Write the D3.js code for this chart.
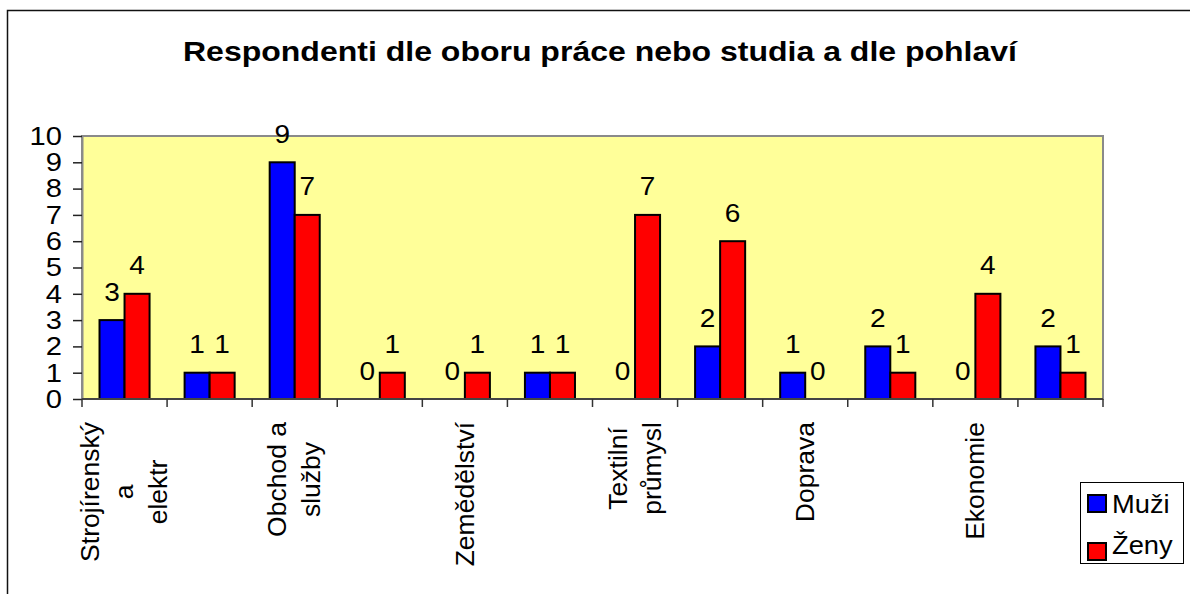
<!DOCTYPE html>
<html>
<head>
<meta charset="utf-8">
<script src="https://cdn.jsdelivr.net/npm/d3@7"></script>
<style>
  body { margin: 0; background: #fff; }
  text { font-family: "Liberation Sans", Arial, sans-serif; fill: #000; }
</style>
</head>
<body>
<script>
// data
const title = 'Respondenti dle oboru práce nebo studia a dle pohlaví'
const categories = ['Strojírenský\na\nelektr', '', 'Obchod a\nslužby', '', 'Zemědělství', '',
  'Textilní\nprůmysl', '', 'Doprava', '', 'Ekonomie', '']
const series = ['Muži', 'Ženy']
const muzi = [3, 1, 9, 0, 0, 1, 0, 2, 1, 2, 0, 2]
const zeny = [4, 1, 7, 1, 1, 1, 7, 6, 0, 1, 4, 1]
const yTicks = [0, 1, 2, 3, 4, 5, 6, 7, 8, 9, 10]

;(function () {
  const W = 1190
  const H = 594
  const plot = { left: 82, right: 1103, top: 136, bottom: 399 }
  const sx = 1.12 // the source picture is a bit wider than tall

  const svg = d3.select('body').append('svg')
    .attr('width', W)
    .attr('height', H)

  // stretch horizontal text a little, like the original
  function stretch (sel, k) {
    sel.each(function () {
      const w = this.getComputedTextLength()
      d3.select(this)
        .attr('textLength', w * k)
        .attr('lengthAdjust', 'spacingAndGlyphs')
    })
  }

  // outer chart frame (runs off the page right and bottom)
  svg.append('rect')
    .attr('x', 7.5)
    .attr('y', 10.5)
    .attr('width', W + 20)
    .attr('height', H + 20)
    .attr('fill', 'none')
    .attr('stroke', '#111')
    .attr('stroke-width', 1.5)

  svg.append('text')
    .attr('x', 600)
    .attr('y', 61)
    .attr('text-anchor', 'middle')
    .style('font-size', '28.5px')
    .style('font-weight', 'bold')
    .text(title)
    .attr('textLength', 834)
    .attr('lengthAdjust', 'spacingAndGlyphs')

  const x = d3.scaleBand()
    .domain(d3.range(categories.length))
    .range([plot.left, plot.right])
    .padding(0)

  const xs = d3.scaleBand()
    .domain(series)
    .range([0, x.bandwidth()])
    .paddingInner(0)
    .paddingOuter(0.7)

  const y = d3.scaleLinear()
    .domain([0, 10])
    .range([plot.bottom, plot.top])

  const color = d3.scaleOrdinal()
    .domain(series)
    .range(['#0000ff', '#ff0000'])

  // plot area
  svg.append('rect')
    .attr('x', plot.left)
    .attr('y', plot.top)
    .attr('width', plot.right - plot.left)
    .attr('height', plot.bottom - plot.top)
    .attr('fill', '#ffff99')
    .attr('stroke', '#8a8a8a')
    .attr('stroke-width', 2)

  // y axis
  const yAxis = svg.append('g')
    .attr('transform', `translate(${plot.left},0)`)
    .call(d3.axisLeft(y).tickValues(yTicks).tickSizeInner(9).tickSizeOuter(0).tickPadding(11))

  yAxis.select('.domain').attr('stroke', '#8a8a8a').attr('stroke-width', 2)
  yAxis.selectAll('.tick line').attr('stroke', '#222').attr('stroke-width', 1.5)
  yAxis.selectAll('.tick text')
    .style('font-size', '26px')
    .attr('fill', '#000')
    .call(stretch, sx)

  // bars
  const rows = categories.map((c, i) => ({ i, values: [muzi[i], zeny[i]] }))

  const groups = svg.selectAll('g.cat')
    .data(rows)
    .enter()
    .append('g')
    .attr('class', 'cat')
    .attr('transform', d => `translate(${x(d.i)},0)`)

  const cells = groups.selectAll('g.cell')
    .data(d => series.map((s, k) => ({ s, v: d.values[k] })))
    .enter()
    .append('g')
    .attr('class', 'cell')

  cells.filter(d => d.v > 0)
    .append('rect')
    .attr('x', d => xs(d.s))
    .attr('y', d => y(d.v))
    .attr('width', xs.bandwidth())
    .attr('height', d => y(0) - y(d.v))
    .attr('fill', d => color(d.s))
    .attr('stroke', '#000')
    .attr('stroke-width', 2)

  cells.append('text')
    .attr('x', d => xs(d.s) + xs.bandwidth() / 2)
    .attr('y', d => y(d.v) - 19.5)
    .attr('text-anchor', 'middle')
    .style('font-size', '25px')
    .text(d => d.v)
    .call(stretch, sx)

  // x axis line and ticks between categories
  svg.append('line')
    .attr('x1', plot.left)
    .attr('x2', plot.right)
    .attr('y1', plot.bottom)
    .attr('y2', plot.bottom)
    .attr('stroke', '#444')
    .attr('stroke-width', 2)

  const bounds = d3.range(categories.length).map(i => x(i)).concat([plot.right])
  svg.selectAll('line.xtick')
    .data(bounds)
    .enter()
    .append('line')
    .attr('class', 'xtick')
    .attr('x1', d => d)
    .attr('x2', d => d)
    .attr('y1', plot.bottom)
    .attr('y2', plot.bottom + 8)
    .attr('stroke', '#333')
    .attr('stroke-width', 1.5)

  // rotated category labels, wrapped and centred
  const lineGap = 34
  rows.filter(d => categories[d.i] !== '').forEach(d => {
    const lines = categories[d.i].split('\n')
    const cx = x(d.i) + x.bandwidth() / 2
    const g = svg.append('g')
      .attr('transform', `translate(${cx},422) rotate(-90)`)
    const texts = g.selectAll('text')
      .data(lines)
      .enter()
      .append('text')
      .attr('text-anchor', 'middle')
      .attr('y', (t, k) => (k - (lines.length - 1) / 2) * lineGap + 8.7)
      .style('font-size', '26.5px')
      .text(t => t)
    let longest = 0
    texts.each(function () { longest = Math.max(longest, this.getComputedTextLength()) })
    texts.attr('x', -longest / 2)
  })

  // legend
  const legend = svg.append('g')
  legend.append('rect')
    .attr('x', 1080.5)
    .attr('y', 482.5)
    .attr('width', 103)
    .attr('height', 81)
    .attr('fill', '#fff')
    .attr('stroke', '#000')
    .attr('stroke-width', 1)

  const legendRows = [{ s: series[0], top: 495, base: 513 }, { s: series[1], top: 543, base: 554 }]
  legendRows.forEach(r => {
    legend.append('rect')
      .attr('x', 1088)
      .attr('y', r.top)
      .attr('width', 18)
      .attr('height', 17)
      .attr('fill', color(r.s))
      .attr('stroke', '#000')
      .attr('stroke-width', 2)
    legend.append('text')
      .attr('x', 1112)
      .attr('y', r.base)
      .style('font-size', '26px')
      .text(r.s)
      .call(stretch, 1.05)
  })
})()
</script>
</body>
</html>
